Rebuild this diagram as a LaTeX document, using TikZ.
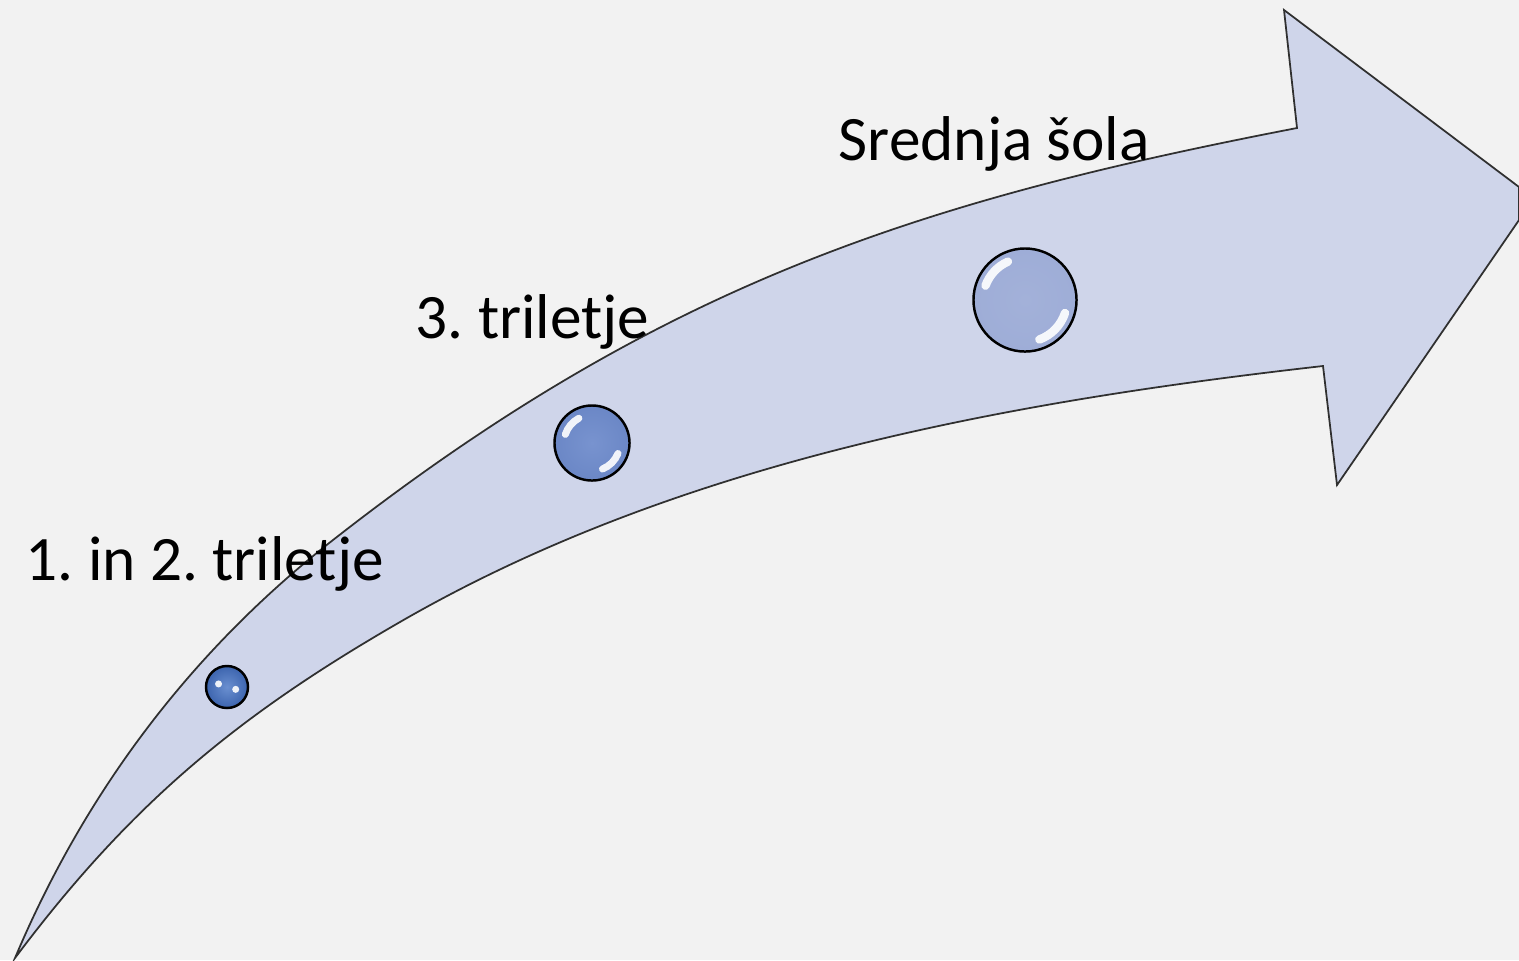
\documentclass[tikz,border=0pt]{standalone}
\usepackage{fontspec}
\setmainfont{Carlito}
\frenchspacing
\definecolor{bgc}{HTML}{F2F2F2}
\definecolor{arrowfill}{HTML}{CFD5EA}
\definecolor{edgec}{HTML}{303030}
\definecolor{ballA}{HTML}{3C64AE}
\definecolor{ballAin}{HTML}{6A8FD0}
\definecolor{ballB}{HTML}{6B87C6}
\definecolor{ballBin}{HTML}{7893CF}
\definecolor{ballC}{HTML}{9EADD7}
\definecolor{ballCin}{HTML}{A3B1D9}
\begin{document}
\begin{tikzpicture}[x={(0.01cm,0)},y={(0,-0.01cm)},
  lbl/.style={font=\fontsize{18}{21}\selectfont, anchor=base west, inner sep=0pt, text=black},
  bubble/.style={circle, draw=black, line width=0.7pt, inner sep=0pt},
  shine/.style={draw=white, line cap=round, opacity=0.9}]
\fill[bgc] (0,0) rectangle (1519,960);
\useasboundingbox (0,0) rectangle (1519,960);
% curved arrow
\coordinate (tail) at (15,958);
\coordinate (um) at (333,540);
\coordinate (un) at (1297,128);
\coordinate (hb) at (1284,10);
\coordinate (tipA) at (1519,187);
\coordinate (tipB) at (1519,220);
\coordinate (lb) at (1337,485);
\coordinate (ln) at (1323,366);
\coordinate (lm) at (400,622);
\draw[fill=arrowfill, draw=edgec, line width=0.5pt, line join=miter]
  (tail) .. controls (85,792) and (191,651) .. (um)
         .. controls (664,281) and (925,200) .. (un)
  -- (hb) -- (tipA) -- (tipB) -- (lb) -- (ln)
         .. controls (1005,402) and (677,462) .. (lm)
         .. controls (235,717) and (129,806) .. (tail)
  -- cycle;
% bubbles
\node[bubble, minimum size=0.42cm, inner color=ballAin, outer color=ballA] (b1) at (227,687) {};
\node[bubble, minimum size=0.75cm, inner color=ballBin, outer color=ballB] (b2) at (592,443) {};
\node[bubble, minimum size=1.03cm, inner color=ballCin, outer color=ballC] (b3) at (1025,300) {};
% highlights
\fill[white, opacity=0.9] (b1.center) ++(160:0.09cm) circle[radius=0.035cm];
\fill[white, opacity=0.9] (b1.center) ++(-15:0.09cm) circle[radius=0.035cm];
\draw[shine, line width=2pt] (b2.center) ++(118:0.28cm) arc[start angle=118, end angle=162, radius=0.28cm];
\draw[shine, line width=2pt] (b2.center) ++(292:0.28cm) arc[start angle=292, end angle=338, radius=0.28cm];
\draw[shine, line width=2.4pt] (b3.center) ++(114:0.42cm) arc[start angle=114, end angle=160, radius=0.42cm];
\draw[shine, line width=2.4pt] (b3.center) ++(290:0.42cm) arc[start angle=290, end angle=342, radius=0.42cm];
% labels
\node[lbl] (t1) at (25,580) {1. in 2. triletje};
\node[lbl] (t2) at (415,338) {3. triletje};
\node[lbl] (t3) at (838,160) {Srednja šola};
\end{tikzpicture}
\end{document}
